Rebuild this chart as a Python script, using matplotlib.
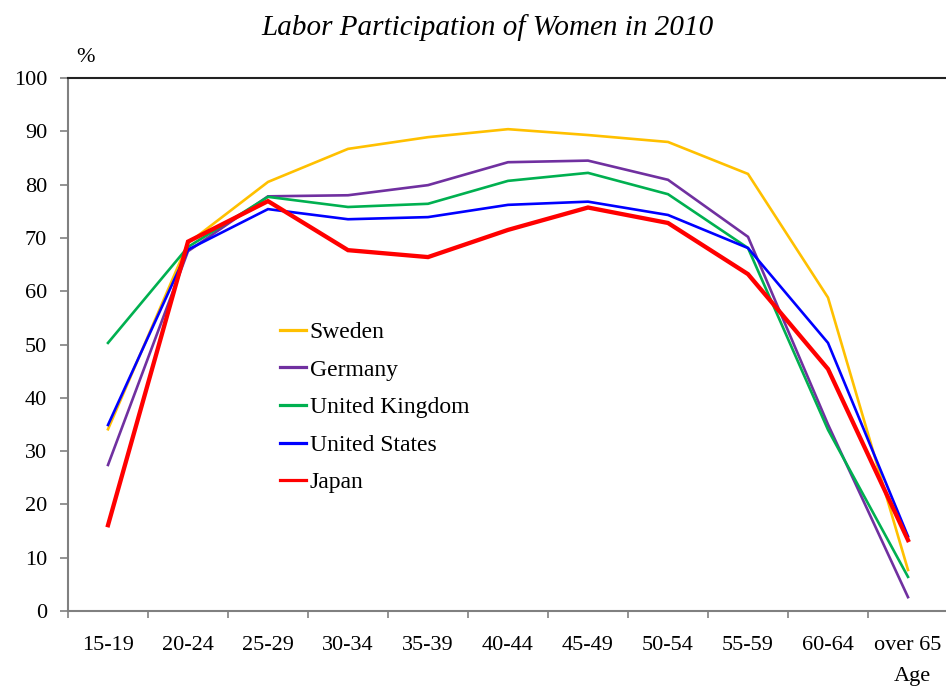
import matplotlib
matplotlib.use("Agg")
import matplotlib.pyplot as plt
import numpy as np

ages = ["15-19", "20-24", "25-29", "30-34", "35-39", "40-44", "45-49",
        "50-54", "55-59", "60-64", "over 65"]

sweden = [34.1, 69.0, 80.5, 86.7, 88.9, 90.4, 89.3, 88.0, 82.0, 58.8, 7.7]
germany = [27.4, 67.5, 77.8, 78.0, 79.9, 84.2, 84.5, 80.9, 70.2, 35.0, 2.6]
uk = [50.3, 68.3, 77.7, 75.8, 76.4, 80.7, 82.2, 78.2, 68.1, 34.0, 6.4]
us = [34.9, 67.8, 75.4, 73.5, 73.9, 76.2, 76.8, 74.3, 68.1, 50.3, 14.0]
japan = [16.1, 69.3, 76.9, 67.7, 66.4, 71.5, 75.7, 72.8, 63.2, 45.4, 13.3]

series = [
    ("Sweden", sweden, "#FFC000", 1.9),
    ("Germany", germany, "#7030A0", 1.9),
    ("United Kingdom", uk, "#00B050", 1.9),
    ("United States", us, "#0000FF", 1.9),
    ("Japan", japan, "#FF0000", 3.1),
]

plt.rcParams['font.family'] = ['Liberation Serif', 'DejaVu Serif']

fig = plt.figure(figsize=(9.46, 6.86), dpi=100)
W, H = 946, 686
ax = fig.add_axes([68 / W, 1 - 611 / H, 880 / W, 533 / H])

x = np.arange(len(ages))
for name, vals, col, lw in series:
    ax.plot(x, vals, color=col, lw=lw, label=name, solid_joinstyle='miter')

ax.set_xlim(-0.5, len(ages) - 0.5)
ax.set_ylim(0, 100)
ax.set_yticks(np.arange(0, 101, 10))
ax.set_xticks(x)
ax.set_xticklabels(ages)
ax.set_xticks(np.arange(-0.5, len(ages) - 0.4, 1), minor=True)
ax.tick_params(axis='x', which='major', length=0, pad=18, labelsize=16)
ax.tick_params(axis='x', which='minor', length=5, width=1.2, color='#808080', direction='out')
ax.tick_params(axis='y', which='major', length=6, width=1.2, color='#808080', direction='out',
               labelsize=16, pad=9)

for s in ['left', 'bottom']:
    ax.spines[s].set_color('#808080')
    ax.spines[s].set_linewidth(1.5)
ax.spines['top'].set_color('#222222')
ax.spines['top'].set_linewidth(1.5)
ax.spines['right'].set_visible(False)

fig.text(487 / W, 1 - 28 / H, "Labor Participation of Women in 2010", ha='center', va='center',
         fontsize=21, style='italic')
fig.text(85 / W, 1 - 57 / H, "%", ha='center', va='center', fontsize=16)
fig.text(912 / W, 1 - 676 / H, "Age", ha='center', va='center', fontsize=16)

leg = ax.legend(loc='upper left', bbox_to_anchor=(212 / 880, (611 - 321.5) / 533),
                frameon=False, fontsize=17, handlelength=1.1, handletextpad=0.15,
                labelspacing=0.68, borderaxespad=0, borderpad=0)
for h in leg.get_lines():
    h.set_linewidth(2.3)

fig.savefig("out.png", dpi=100)
